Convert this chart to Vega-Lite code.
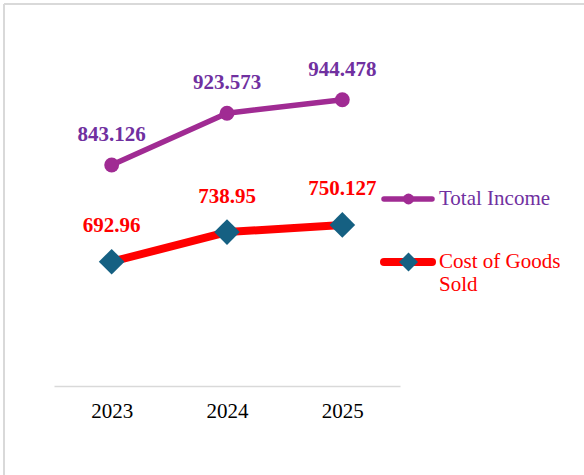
{
  "$schema": "https://vega.github.io/schema/vega-lite/v6.json",
  "width": 580,
  "height": 471,
  "autosize": {"type": "none"},
  "padding": {"left": 4, "top": 4, "right": 0, "bottom": 0},
  "background": "white",
  "config": {
    "view": {"stroke": "#D9D9D9", "strokeWidth": 2, "strokeDash": [580, 1051, 471, 0]},
    "font": "Liberation Serif"
  },
  "data": {
    "values": [
      {"year": "2023", "series": "Total Income", "value": 843.126},
      {"year": "2024", "series": "Total Income", "value": 923.573},
      {"year": "2025", "series": "Total Income", "value": 944.478},
      {"year": "2023", "series": "Cost of Goods Sold", "value": 692.96},
      {"year": "2024", "series": "Cost of Goods Sold", "value": 738.95},
      {"year": "2025", "series": "Cost of Goods Sold", "value": 750.127}
    ]
  },
  "encoding": {
    "x": {
      "field": "year",
      "type": "ordinal",
      "scale": {"type": "point", "range": [50, 396], "padding": 0.5},
      "axis": {
        "title": null,
        "offset": -89,
        "domainColor": "#D9D9D9",
        "domainWidth": 1.5,
        "ticks": false,
        "grid": false,
        "labelAngle": 0,
        "labelFont": "Liberation Serif",
        "labelFontSize": 21,
        "labelColor": "#000000",
        "labelPadding": 14
      }
    },
    "y": {
      "field": "value",
      "type": "quantitative",
      "scale": {"domain": [500, 1000], "range": [382, 60]},
      "axis": null
    }
  },
  "layer": [
    {
      "mark": {"type": "line", "strokeCap": "round", "strokeJoin": "round"},
      "encoding": {
        "color": {
          "field": "series",
          "type": "nominal",
          "scale": {"domain": ["Total Income", "Cost of Goods Sold"], "range": ["#A02B93", "#FF0000"]},
          "legend": {
            "title": null,
            "orient": "none",
            "legendX": 376,
            "legendY": 180,
            "symbolType": "stroke",
            "symbolSize": 2304,
            "symbolStrokeWidth": 7,
            "clipHeight": 30,
            "rowPadding": 33,
            "labelFont": "Liberation Serif",
            "labelFontSize": 21,
            "labelOffset": 3,
            "labelLimit": 300,
            "labelExpr": "datum.label === 'Cost of Goods Sold' ? ['Cost of Goods', 'Sold'] : datum.label",
            "encode": {
              "symbols": {"update": {"strokeCap": {"value": "round"}, "strokeWidth": {"value": 7}}},
              "labels": {"update": {"fill": {"signal": "datum.value === 'Total Income' ? '#7030A0' : '#FF0000'"}}}
            }
          }
        },
        "strokeWidth": {
          "field": "series",
          "type": "nominal",
          "scale": {"domain": ["Total Income", "Cost of Goods Sold"], "range": [5.5, 8]},
          "legend": null
        }
      }
    },
    {
      "mark": {"type": "point", "filled": true, "opacity": 1, "size": 220},
      "encoding": {
        "shape": {
          "field": "series",
          "type": "nominal",
          "sort": "descending",
          "scale": {"range": ["circle", "M-1.73,0L0,-1.73L1.73,0L0,1.73Z"]},
          "legend": {
            "title": null,
            "orient": "none",
            "legendX": 394,
            "legendY": 180,
            "symbolSize": 120,
            "symbolStrokeWidth": 0,
            "clipHeight": 30,
            "rowPadding": 33,
            "labelFont": "Liberation Serif",
            "labelFontSize": 21,
            "labelOffset": 4,
            "labelExpr": "''",
            "encode": {
              "symbols": {"update": {"shape": {"signal": "datum.value === 'Total Income' ? 'circle' : 'diamond'"}}}
            }
          }
        },
        "fill": {
          "field": "series",
          "type": "nominal",
          "sort": "descending",
          "scale": {"range": ["#A02B93", "#156082"]},
          "legend": {
            "title": null,
            "orient": "none",
            "legendX": 394,
            "legendY": 180,
            "symbolSize": 120,
            "symbolStrokeWidth": 0,
            "clipHeight": 30,
            "rowPadding": 33,
            "labelFont": "Liberation Serif",
            "labelFontSize": 21,
            "labelOffset": 4,
            "labelExpr": "''",
            "encode": {
              "symbols": {"update": {"shape": {"signal": "datum.value === 'Total Income' ? 'circle' : 'diamond'"}}}
            }
          }
        }
      }
    },
    {
      "transform": [{"filter": "datum.series === 'Total Income'"}],
      "mark": {"type": "text", "dy": -30, "fontWeight": "bold", "fontSize": 21, "font": "Liberation Serif", "color": "#7030A0"},
      "encoding": {"text": {"field": "value", "type": "quantitative", "format": ".6~r"}}
    },
    {
      "transform": [{"filter": "datum.series === 'Cost of Goods Sold'"}],
      "mark": {"type": "text", "dy": -35.5, "fontWeight": "bold", "fontSize": 21, "font": "Liberation Serif", "color": "#FF0000"},
      "encoding": {"text": {"field": "value", "type": "quantitative", "format": ".6~r"}}
    }
  ]
}
